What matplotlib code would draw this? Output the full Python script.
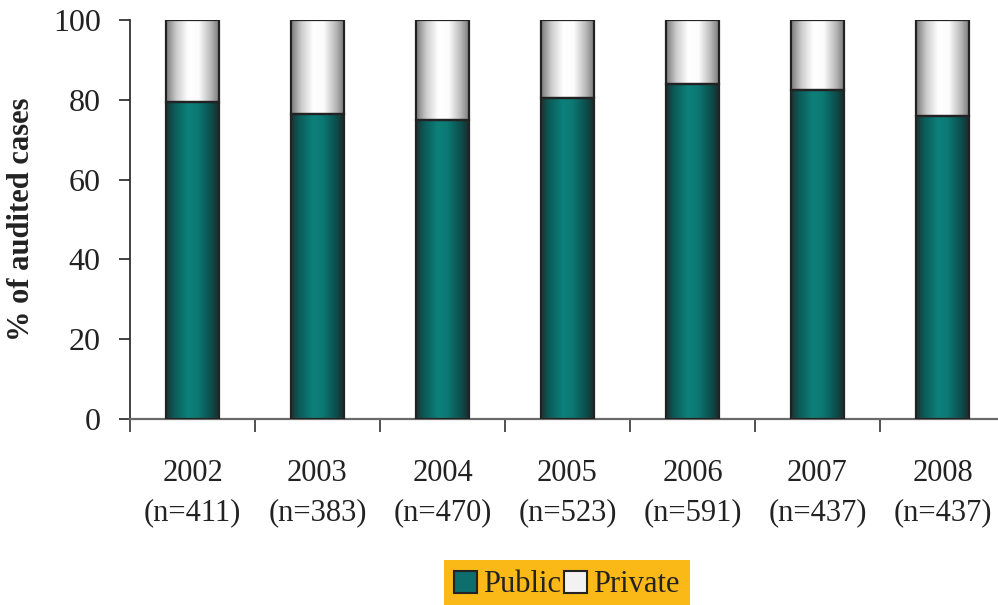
import numpy as np
import matplotlib
matplotlib.use("Agg")
import matplotlib.pyplot as plt
from matplotlib.colors import LinearSegmentedColormap
from matplotlib.patches import Patch

years = ["2002", "2003", "2004", "2005", "2006", "2007", "2008"]
counts = [411, 383, 470, 523, 591, 437, 437]
public = [79.5, 76.5, 75.0, 80.5, 84.0, 82.5, 76.0]
private = [100 - p for p in public]

plt.rcParams["font.family"] = ["Liberation Serif", "DejaVu Serif"]

W, H = 998, 605
fig = plt.figure(figsize=(W / 100, H / 100), dpi=100)
ax = fig.add_axes([130 / W, (H - 419) / H, 875 / W, 399 / H])

teal_cmap = LinearSegmentedColormap.from_list(
    "teal_cyl",
    [(0.0, "#1d3233"), (0.15, "#0b5a57"), (0.42, "#0d817b"),
     (0.6, "#0c7873"), (0.85, "#0b4f4d"), (1.0, "#1c2c2d")])
grey_cmap = LinearSegmentedColormap.from_list(
    "grey_cyl",
    [(0.0, "#7a7a7a"), (0.2, "#cdcdcd"), (0.42, "#ffffff"),
     (0.62, "#fcfcfc"), (0.85, "#b8b8b8"), (1.0, "#7c7c7c")])

x = np.arange(len(years))
width = 0.42
bars_pub = ax.bar(x, public, width, facecolor="none", edgecolor="#222222",
                  linewidth=1.6, zorder=3)
bars_pri = ax.bar(x, private, width, bottom=public, facecolor="none",
                  edgecolor="#222222", linewidth=1.6, zorder=3)

grad = np.linspace(0, 1, 256).reshape(1, -1)


def fill_gradient(bars, cmap):
    for b in bars:
        x0, y0 = b.get_x(), b.get_y()
        w, h = b.get_width(), b.get_height()
        im = ax.imshow(grad, cmap=cmap, aspect="auto",
                       extent=(x0, x0 + w, y0, y0 + h), zorder=2,
                       interpolation="bilinear")
        im.set_clip_path(b)


fill_gradient(bars_pub, teal_cmap)
fill_gradient(bars_pri, grey_cmap)

ax.set_xlim(-0.5, len(years) - 0.5)
ax.set_ylim(0, 100)
ax.set_yticks(np.arange(0, 101, 20))

labels = [f"{y}\n(n={n})" for y, n in zip(years, counts)]
ax.set_xticks(x)
ax.set_xticklabels(labels, linespacing=1.45)
ax.set_xticks(np.arange(-0.5, len(years), 1.0), minor=True)
ax.tick_params(axis="x", which="major", length=0, pad=29, labelsize=22,
               colors="#222222")
ax.tick_params(axis="x", which="minor", length=9, width=1.2, color="#333333")
ax.tick_params(axis="y", length=8, width=1.2, pad=13, labelsize=23,
               color="#222222", labelcolor="#222222")

for s in ("top", "right"):
    ax.spines[s].set_visible(False)
ax.spines["left"].set_color("#222222")
ax.spines["left"].set_linewidth(1.2)
ax.spines["bottom"].set_color("#6a6a6a")
ax.spines["bottom"].set_linewidth(1.6)

ax.set_ylabel("% of audited cases", fontsize=22, fontweight="bold",
              color="#222222", labelpad=12)

handles = [Patch(facecolor="#0c6f6b", edgecolor="#222222", linewidth=1.5),
           Patch(facecolor="#f2f2f2", edgecolor="#222222", linewidth=1.5)]
leg = fig.legend(handles, ["Public", "Private"], loc="center",
                 bbox_to_anchor=(567 / W, 1 - 585 / H), ncol=2, frameon=True,
                 fancybox=False, fontsize=22, handlelength=0.75,
                 handleheight=0.75, handletextpad=0.2, columnspacing=0.1,
                 borderpad=0.35, borderaxespad=0)
leg.get_frame().set_facecolor("#fbb917")
leg.get_frame().set_edgecolor("none")
leg.get_frame().set_alpha(1)
for t in leg.get_texts():
    t.set_color("#222222")

fig.savefig("out.png", dpi=100)
